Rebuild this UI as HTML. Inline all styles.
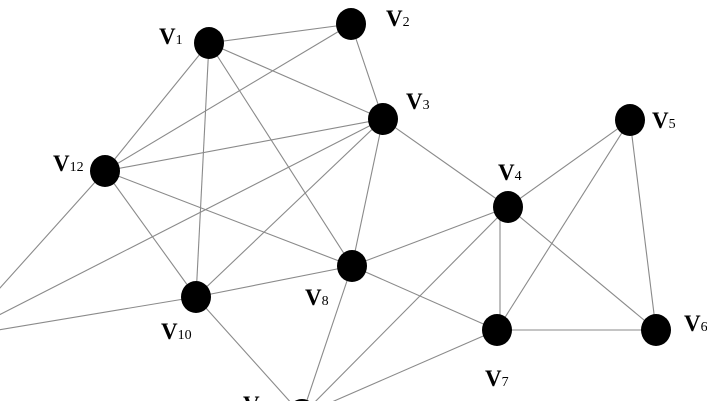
<!DOCTYPE html>
<html><head><meta charset="utf-8"><style>
html,body{margin:0;padding:0;background:#fff;width:707px;height:401px;overflow:hidden;}
svg{display:block;}
text{font-family:"Liberation Serif",serif;fill:#000;}
.v{font-weight:bold;font-size:23px;}
.s{font-size:14px;}
</style></head><body>
<svg width="707" height="401" viewBox="0 0 707 401" xmlns="http://www.w3.org/2000/svg" overflow="hidden">
<g stroke="#8a8a8a" stroke-width="1.1" fill="none">
<line x1="209" y1="43" x2="351" y2="24"/>
<line x1="209" y1="43" x2="383" y2="119"/>
<line x1="209" y1="43" x2="105" y2="171"/>
<line x1="209" y1="43" x2="196" y2="297"/>
<line x1="209" y1="43" x2="352" y2="266"/>
<line x1="351" y1="24" x2="105" y2="171"/>
<line x1="351" y1="24" x2="383" y2="119"/>
<line x1="383" y1="119" x2="105" y2="171"/>
<line x1="383" y1="119" x2="196" y2="297"/>
<line x1="383" y1="119" x2="352" y2="266"/>
<line x1="383" y1="119" x2="508" y2="207"/>
<line x1="383" y1="119" x2="-44" y2="337"/>
<line x1="105" y1="171" x2="196" y2="297"/>
<line x1="105" y1="171" x2="352" y2="266"/>
<line x1="105" y1="171" x2="-44" y2="337"/>
<line x1="196" y1="297" x2="352" y2="266"/>
<line x1="196" y1="297" x2="302" y2="415"/>
<line x1="196" y1="297" x2="-44" y2="337"/>
<line x1="352" y1="266" x2="508" y2="207"/>
<line x1="352" y1="266" x2="497" y2="330"/>
<line x1="352" y1="266" x2="302" y2="415"/>
<line x1="508" y1="207" x2="630" y2="120"/>
<line x1="500" y1="207" x2="500" y2="330"/>
<line x1="508" y1="207" x2="656" y2="330"/>
<line x1="508" y1="207" x2="302" y2="415"/>
<line x1="630" y1="120" x2="497" y2="330"/>
<line x1="630" y1="120" x2="656" y2="330"/>
<line x1="497" y1="330" x2="656" y2="330"/>
<line x1="497" y1="330" x2="302" y2="415"/>
</g>
<g fill="#000">
<ellipse cx="209" cy="43" rx="15" ry="16"/>
<ellipse cx="351" cy="24" rx="15" ry="16"/>
<ellipse cx="383" cy="119" rx="15" ry="16"/>
<ellipse cx="105" cy="171" rx="15" ry="16"/>
<ellipse cx="508" cy="207" rx="15" ry="16"/>
<ellipse cx="630" cy="120" rx="15" ry="16"/>
<ellipse cx="352" cy="266" rx="15" ry="16"/>
<ellipse cx="196" cy="297" rx="15" ry="16"/>
<ellipse cx="497" cy="330" rx="15" ry="16"/>
<ellipse cx="656" cy="330" rx="15" ry="16"/>
<ellipse cx="302" cy="415" rx="15" ry="16"/>
</g>
<text x="159" y="44"><tspan class="v">V</tspan><tspan class="s">1</tspan></text>
<text x="386" y="26"><tspan class="v">V</tspan><tspan class="s">2</tspan></text>
<text x="406" y="109"><tspan class="v">V</tspan><tspan class="s">3</tspan></text>
<text x="53" y="171"><tspan class="v">V</tspan><tspan class="s">12</tspan></text>
<text x="498" y="180"><tspan class="v">V</tspan><tspan class="s">4</tspan></text>
<text x="652" y="128"><tspan class="v">V</tspan><tspan class="s">5</tspan></text>
<text x="305" y="305"><tspan class="v">V</tspan><tspan class="s">8</tspan></text>
<text x="161" y="339"><tspan class="v">V</tspan><tspan class="s">10</tspan></text>
<text x="485" y="386"><tspan class="v">V</tspan><tspan class="s">7</tspan></text>
<text x="684" y="331"><tspan class="v">V</tspan><tspan class="s">6</tspan></text>
<text x="243" y="412"><tspan class="v">V</tspan><tspan class="s">9</tspan></text>
</svg>
</body></html>
